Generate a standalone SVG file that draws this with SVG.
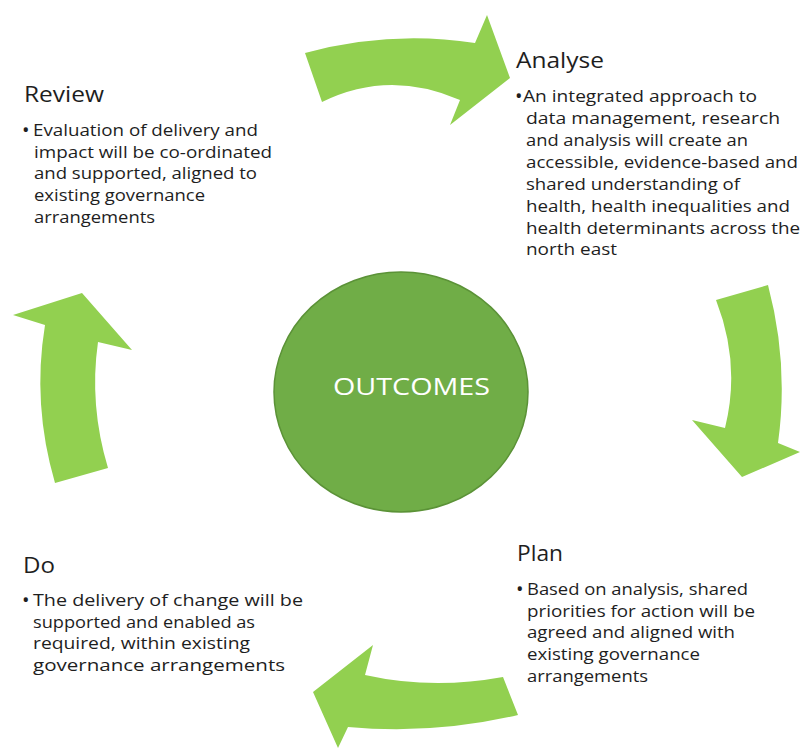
<svg xmlns="http://www.w3.org/2000/svg" width="800" height="749" viewBox="0 0 800 749">
<style>
text{font-family:"Open Sans","Noto Sans","DejaVu Sans",sans-serif;fill:#1e1e1e}
.h{font-size:22px}
.b{font-size:16px}
.bu{font-size:20px}
.c{font-size:24px;fill:#ffffff}
.arrow{fill:#92D050}
</style>
<rect width="800" height="749" fill="#ffffff"/>
<g id="connectors">
<path class="arrow" d="M305,53 Q390,30 475,43 L487,15 L510,78 L450,125 L460,100 Q389,69 322,102 Z"/>
<path class="arrow" d="M716,300 L768,285 Q789,364 778,443 L800,452 L742,477 L692,420 L725,428 Q741,364 716,300 Z"/>
<path class="arrow" d="M503,677 Q432,690 365,675 L373,645 L313,692 L338,748 L348,727 Q433,735 518,715 Z"/>
<path class="arrow" d="M55,483 L108,468 Q89,405 98,342 L132,350 L82,293 L13,315 L45,325 Q32,404 55,483 Z"/>
</g>
<g id="outcomes">
<ellipse cx="401" cy="392" rx="127" ry="120" fill="#70AD47" stroke="#5B9237" stroke-width="1.5"/>
<text class="c" x="333" y="395" textLength="157" lengthAdjust="spacingAndGlyphs">OUTCOMES</text>
</g>
<g id="analyse">
<text class="h" x="516" y="68" textLength="88" lengthAdjust="spacingAndGlyphs">Analyse</text>
<text class="bu" x="515" y="103">•</text>
<text class="b" x="523" y="102" textLength="234" lengthAdjust="spacingAndGlyphs">An integrated approach to</text>
<text class="b" x="526" y="124" textLength="254" lengthAdjust="spacingAndGlyphs">data management, research</text>
<text class="b" x="526" y="146" textLength="222" lengthAdjust="spacingAndGlyphs">and analysis will create an</text>
<text class="b" x="526" y="168" textLength="272" lengthAdjust="spacingAndGlyphs">accessible, evidence-based and</text>
<text class="b" x="526" y="190" textLength="214" lengthAdjust="spacingAndGlyphs">shared understanding of</text>
<text class="b" x="526" y="212" textLength="264" lengthAdjust="spacingAndGlyphs">health, health inequalities and</text>
<text class="b" x="526" y="234" textLength="274" lengthAdjust="spacingAndGlyphs">health determinants across the</text>
<text class="b" x="526" y="255" textLength="91" lengthAdjust="spacingAndGlyphs">north east</text>
</g>
<g id="plan">
<text class="h" x="517" y="561" textLength="46" lengthAdjust="spacingAndGlyphs">Plan</text>
<text class="bu" x="516" y="596">•</text>
<text class="b" x="527" y="595" textLength="221" lengthAdjust="spacingAndGlyphs">Based on analysis, shared</text>
<text class="b" x="527" y="617" textLength="228" lengthAdjust="spacingAndGlyphs">priorities for action will be</text>
<text class="b" x="527" y="638" textLength="208" lengthAdjust="spacingAndGlyphs">agreed and aligned with</text>
<text class="b" x="527" y="660" textLength="173" lengthAdjust="spacingAndGlyphs">existing governance</text>
<text class="b" x="527" y="682" textLength="121" lengthAdjust="spacingAndGlyphs">arrangements</text>
</g>
<g id="do">
<text class="h" x="23" y="573" textLength="32" lengthAdjust="spacingAndGlyphs">Do</text>
<text class="bu" x="22" y="607">•</text>
<text class="b" x="33" y="606" textLength="270" lengthAdjust="spacingAndGlyphs">The delivery of change will be</text>
<text class="b" x="33" y="628" textLength="222" lengthAdjust="spacingAndGlyphs">supported and enabled as</text>
<text class="b" x="33" y="649" textLength="217" lengthAdjust="spacingAndGlyphs">required, within existing</text>
<text class="b" x="33" y="671" textLength="252" lengthAdjust="spacingAndGlyphs">governance arrangements</text>
</g>
<g id="review">
<text class="h" x="24" y="102" textLength="80" lengthAdjust="spacingAndGlyphs">Review</text>
<text class="bu" x="22" y="137">•</text>
<text class="b" x="33" y="136" textLength="225" lengthAdjust="spacingAndGlyphs">Evaluation of delivery and</text>
<text class="b" x="34" y="158" textLength="238" lengthAdjust="spacingAndGlyphs">impact will be co-ordinated</text>
<text class="b" x="34" y="179" textLength="223" lengthAdjust="spacingAndGlyphs">and supported, aligned to</text>
<text class="b" x="34" y="201" textLength="171" lengthAdjust="spacingAndGlyphs">existing governance</text>
<text class="b" x="34" y="223" textLength="121" lengthAdjust="spacingAndGlyphs">arrangements</text>
</g>
</svg>
